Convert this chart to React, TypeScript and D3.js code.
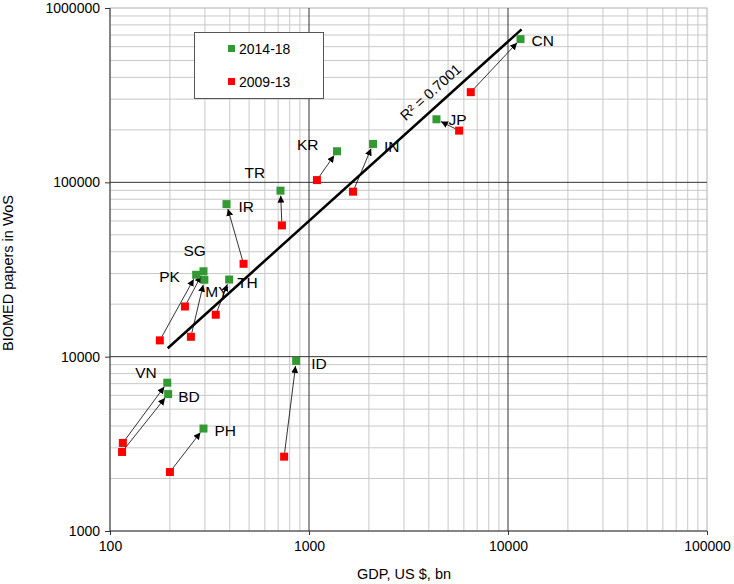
import React, { useEffect, useRef } from 'react';
import * as d3 from 'd3';

const countries = ['CN', 'JP', 'IN', 'KR', 'TR', 'IR', 'SG', 'PK', 'MY', 'TH', 'ID', 'VN', 'BD', 'PH'];
const gdp2014 = [11560, 4370, 2098, 1383, 719, 385, 295, 271, 298, 397, 862, 194, 196, 295];
const papers2014 = [663000, 230000, 166000, 150700, 89600, 75000, 30900, 29500, 27600, 27700, 9450, 7090, 6100, 3870];
const gdp2009 = [6500, 5680, 1664, 1096, 731, 469, 238, 178, 255, 340, 750, 116, 115, 200];
const papers2009 = [329000, 198000, 88400, 103000, 56600, 34100, 19400, 12400, 13000, 17400, 2670, 3200, 2840, 2180];

// power trend line (2014-18), two ends
const trendGdp = [195, 11700];
const trendPapers = [11170, 754000];
const r2Label = 'R² = 0.7001';

const xTicks = [100, 1000, 10000, 100000];
const yTicks = [1000, 10000, 100000, 1000000];

// label offsets from the green marker, px
const labelOffset: Record<string, [number, number]> = {
  CN: [11, 1], JP: [12, 0], IN: [11, 2], KR: [-40, -7], TR: [-36, -18], IR: [12, 2],
  SG: [-20, -21], PK: [-37, 2], MY: [1, 12], TH: [8, 3], ID: [15, 2], VN: [-32, -10],
  BD: [10, 2], PH: [11, 2],
};

const GREEN = '#339933';
const RED = '#ff0000';
const FONT = 'Arial, "Liberation Sans", sans-serif';

const App: React.FC = () => {
  const svgRef = useRef<SVGSVGElement>(null);

  useEffect(() => {
    if (!svgRef.current) return;
    const width = 734;
    const height = 584;
    const left = 110, right = 707, top = 8, bottom = 531;

    const svg = d3.select(svgRef.current);
    svg.selectAll('*').remove();
    svg.attr('width', width).attr('height', height).style('font-family', FONT);

    const x = d3.scaleLog().domain([100, 100000]).range([left, right]);
    const y = d3.scaleLog().domain([1000, 1000000]).range([bottom, top]);

    const defs = svg.append('defs');
    defs.append('marker')
      .attr('id', 'arr')
      .attr('viewBox', '0 0 10 10')
      .attr('refX', 10).attr('refY', 5)
      .attr('markerWidth', 7).attr('markerHeight', 7)
      .attr('markerUnits', 'userSpaceOnUse')
      .attr('orient', 'auto')
      .append('path').attr('d', 'M0,0 L10,5 L0,10 Z').attr('fill', '#000');

    const g = svg.append('g');

    // minor grid
    const minorX: number[] = [];
    const minorY: number[] = [];
    for (let d = 100; d < 100000; d *= 10) for (let k = 2; k < 10; k++) minorX.push(d * k);
    for (let d = 1000; d < 1000000; d *= 10) for (let k = 2; k < 10; k++) minorY.push(d * k);

    g.selectAll('.mx').data(minorX).join('line')
      .attr('x1', d => x(d)).attr('x2', d => x(d)).attr('y1', top).attr('y2', bottom)
      .attr('stroke', '#c8c8c8').attr('stroke-width', 1);
    g.selectAll('.my').data(minorY).join('line')
      .attr('y1', d => y(d)).attr('y2', d => y(d)).attr('x1', left).attr('x2', right)
      .attr('stroke', '#c8c8c8').attr('stroke-width', 1);

    // plot border
    g.append('rect').attr('x', left).attr('y', top).attr('width', right - left).attr('height', bottom - top)
      .attr('fill', 'none').attr('stroke', '#b0b0b0');

    // major grid
    g.selectAll('.Mx').data(xTicks.slice(1, -1)).join('line')
      .attr('x1', d => x(d)).attr('x2', d => x(d)).attr('y1', top).attr('y2', bottom)
      .attr('stroke', '#333').attr('stroke-width', 1);
    g.selectAll('.My').data(yTicks.slice(1, -1)).join('line')
      .attr('y1', d => y(d)).attr('y2', d => y(d)).attr('x1', left).attr('x2', right)
      .attr('stroke', '#333').attr('stroke-width', 1);

    // axes
    const xAxis = d3.axisBottom(x).tickValues(xTicks).tickFormat(d => String(d)).tickSize(4).tickPadding(6);
    const yAxis = d3.axisLeft(y).tickValues(yTicks).tickFormat(d => String(d)).tickSize(5).tickPadding(5);
    const xg = svg.append('g').attr('transform', `translate(0,${bottom})`).call(xAxis);
    const yg = svg.append('g').attr('transform', `translate(${left},0)`).call(yAxis);
    [xg, yg].forEach(a => {
      a.select('.domain').attr('stroke', '#333');
      a.selectAll('.tick line').attr('stroke', '#333');
      a.selectAll('text').attr('font-size', 14).attr('fill', '#000').style('font-family', FONT);
    });
    xg.select('.domain').attr('d', `M${left},0H${right}`);
    yg.select('.domain').attr('d', `M0,${top}V${bottom}`);

    svg.append('text').attr('x', 404).attr('y', 579).attr('text-anchor', 'middle')
      .attr('font-size', 14.5).text('GDP, US $, bn');
    svg.append('text').attr('transform', `translate(13,273) rotate(-90)`).attr('text-anchor', 'middle')
      .attr('font-size', 14.5).text('BIOMED papers in WoS');

    // trend line
    g.append('line')
      .attr('x1', x(trendGdp[0])).attr('y1', y(trendPapers[0]))
      .attr('x2', x(trendGdp[1])).attr('y2', y(trendPapers[1]))
      .attr('stroke', '#000').attr('stroke-width', 2.5);
    const ang = Math.atan2(y(trendPapers[1]) - y(trendPapers[0]), x(trendGdp[1]) - x(trendGdp[0])) * 180 / Math.PI;
    g.append('text')
      .attr('transform', `translate(434,96) rotate(${ang})`)
      .attr('text-anchor', 'middle').attr('font-size', 14.5).text(r2Label);

    const idx = d3.range(countries.length);

    // arrows red -> green
    g.selectAll('.arrow').data(idx).join('line')
      .each(function (i) {
        const x1 = x(gdp2009[i]), y1 = y(papers2009[i]);
        const x2 = x(gdp2014[i]), y2 = y(papers2014[i]);
        const len = Math.hypot(x2 - x1, y2 - y1);
        const s1 = 4, s2 = 5;
        d3.select(this)
          .attr('x1', x1 + (x2 - x1) * s1 / len).attr('y1', y1 + (y2 - y1) * s1 / len)
          .attr('x2', x2 - (x2 - x1) * s2 / len).attr('y2', y2 - (y2 - y1) * s2 / len);
      })
      .attr('stroke', '#000').attr('stroke-width', 0.8).attr('marker-end', 'url(#arr)');

    const sz = 8;
    g.selectAll('.red').data(idx).join('rect')
      .attr('x', i => x(gdp2009[i]) - sz / 2).attr('y', i => y(papers2009[i]) - sz / 2)
      .attr('width', sz).attr('height', sz).attr('fill', RED);
    g.selectAll('.green').data(idx).join('rect')
      .attr('x', i => x(gdp2014[i]) - sz / 2).attr('y', i => y(papers2014[i]) - sz / 2)
      .attr('width', sz).attr('height', sz).attr('fill', GREEN);

    g.selectAll('.lbl').data(idx).join('text')
      .attr('x', i => x(gdp2014[i]) + labelOffset[countries[i]][0])
      .attr('y', i => y(papers2014[i]) + labelOffset[countries[i]][1])
      .attr('dy', '0.36em').attr('font-size', 15.5).text(i => countries[i]);

    // legend
    const lg = svg.append('g');
    lg.append('rect').attr('x', 194.5).attr('y', 32.5).attr('width', 129).attr('height', 66)
      .attr('fill', '#fff').attr('stroke', '#555');
    const legend = [{ label: '2014-18', color: GREEN }, { label: '2009-13', color: RED }];
    legend.forEach((d, i) => {
      const cy = 48.5 + i * 33;
      lg.append('rect').attr('x', 228).attr('y', cy - 3.5).attr('width', 7).attr('height', 7).attr('fill', d.color);
      lg.append('text').attr('x', 239).attr('y', cy).attr('dy', '0.36em').attr('font-size', 14).text(d.label);
    });
  }, []);

  return (
    <div style={{ position: 'absolute', left: 0, top: 0 }}>
      <svg ref={svgRef} style={{ display: 'block' }}></svg>
    </div>
  );
};

export default App;
